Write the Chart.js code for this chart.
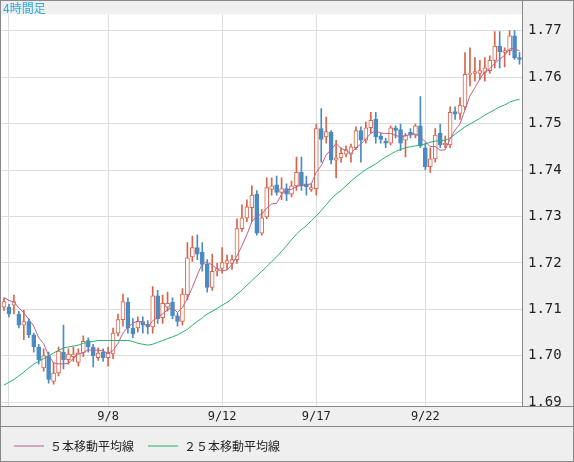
<!DOCTYPE html>
<html><head><meta charset="utf-8">
<script src="https://cdn.jsdelivr.net/npm/chart.js@4/dist/chart.umd.min.js"></script>
<style>html,body{margin:0;padding:0;background:#fff}#wrap{width:574px;height:462px}</style>
</head><body><div id="wrap"><canvas id="c"></canvas></div>
<script>
// 4時間足 OHLC
var opens  = [1.7105,1.7105,1.7109,1.7090,1.7066,1.7074,1.7045,1.7019,1.6974,1.7000,1.6945,1.6963,1.7008,1.6992,1.6998,1.6986,1.7006,1.7033,1.7019,1.6996,1.7008,1.6996,1.7004,1.7049,1.7078,1.7115,1.7060,1.7060,1.7074,1.7068,1.7062,1.7129,1.7082,1.7105,1.7115,1.7086,1.7074,1.7131,1.7213,1.7233,1.7223,1.7197,1.7147,1.7182,1.7188,1.7199,1.7199,1.7207,1.7274,1.7297,1.7319,1.7348,1.7264,1.7299,1.7358,1.7368,1.7352,1.7360,1.7348,1.7366,1.7395,1.7370,1.7358,1.7360,1.7489,1.7471,1.7481,1.7421,1.7426,1.7434,1.7434,1.7448,1.7485,1.7464,1.7491,1.7509,1.7473,1.7462,1.7458,1.7491,1.7487,1.7464,1.7481,1.7475,1.7495,1.7448,1.7407,1.7424,1.7479,1.7454,1.7454,1.7526,1.7522,1.7536,1.7606,1.7608,1.7608,1.7610,1.7614,1.7636,1.7667,1.7653,1.7657,1.7689,1.7642];
var highs  = [1.7125,1.7111,1.7131,1.7096,1.7098,1.7080,1.7049,1.7025,1.7015,1.7008,1.6986,1.7019,1.7066,1.7015,1.7019,1.7015,1.7043,1.7039,1.7025,1.7017,1.7015,1.7019,1.7060,1.7090,1.7133,1.7125,1.7080,1.7084,1.7084,1.7076,1.7149,1.7141,1.7131,1.7137,1.7125,1.7092,1.7145,1.7244,1.7258,1.7260,1.7244,1.7207,1.7219,1.7199,1.7233,1.7217,1.7217,1.7295,1.7325,1.7336,1.7366,1.7356,1.7315,1.7383,1.7383,1.7387,1.7383,1.7370,1.7376,1.7428,1.7428,1.7387,1.7370,1.7499,1.7532,1.7514,1.7485,1.7464,1.7448,1.7452,1.7456,1.7493,1.7493,1.7503,1.7524,1.7524,1.7479,1.7469,1.7495,1.7495,1.7499,1.7479,1.7489,1.7499,1.7558,1.7458,1.7448,1.7489,1.7499,1.7473,1.7536,1.7536,1.7556,1.7653,1.7663,1.7642,1.7636,1.7642,1.7646,1.7698,1.7698,1.7663,1.7700,1.7700,1.7653];
var lows   = [1.7098,1.7084,1.7090,1.7060,1.7035,1.7039,1.7008,1.6982,1.6967,1.6941,1.6939,1.6957,1.6972,1.6982,1.6988,1.6978,1.6998,1.7008,1.6976,1.6990,1.6988,1.6978,1.6994,1.7043,1.7064,1.7049,1.7039,1.7051,1.7049,1.7047,1.7049,1.7070,1.7070,1.7096,1.7080,1.7064,1.7066,1.7121,1.7203,1.7207,1.7182,1.7137,1.7141,1.7172,1.7178,1.7186,1.7186,1.7199,1.7268,1.7289,1.7289,1.7260,1.7260,1.7295,1.7346,1.7346,1.7336,1.7334,1.7342,1.7356,1.7356,1.7346,1.7354,1.7346,1.7417,1.7458,1.7413,1.7383,1.7417,1.7428,1.7417,1.7444,1.7417,1.7458,1.7479,1.7458,1.7458,1.7448,1.7454,1.7469,1.7442,1.7428,1.7469,1.7469,1.7448,1.7401,1.7395,1.7417,1.7448,1.7448,1.7448,1.7509,1.7509,1.7530,1.7581,1.7591,1.7595,1.7591,1.7608,1.7620,1.7620,1.7622,1.7648,1.7638,1.7628];
var closes = [1.7117,1.7090,1.7117,1.7066,1.7074,1.7045,1.7019,1.6992,1.7000,1.6949,1.6963,1.7010,1.6992,1.7004,1.7004,1.7006,1.7031,1.7019,1.7000,1.7006,1.6996,1.7006,1.7049,1.7078,1.7117,1.7060,1.7047,1.7074,1.7066,1.7062,1.7129,1.7080,1.7113,1.7113,1.7086,1.7074,1.7133,1.7211,1.7233,1.7219,1.7197,1.7147,1.7182,1.7188,1.7201,1.7205,1.7207,1.7274,1.7297,1.7321,1.7346,1.7264,1.7297,1.7362,1.7366,1.7352,1.7360,1.7348,1.7366,1.7395,1.7366,1.7364,1.7362,1.7489,1.7466,1.7483,1.7421,1.7426,1.7436,1.7444,1.7450,1.7485,1.7464,1.7491,1.7507,1.7471,1.7466,1.7458,1.7491,1.7485,1.7458,1.7475,1.7475,1.7495,1.7452,1.7407,1.7424,1.7475,1.7454,1.7458,1.7524,1.7520,1.7540,1.7606,1.7608,1.7612,1.7614,1.7620,1.7636,1.7667,1.7655,1.7657,1.7689,1.7642,1.7638];
// closes before the first visible candle (for the 5 MA)
var prevCloses = [1.7120,1.7135,1.7130,1.7125];
// 25本移動平均線
var ma25 = [1.6937,1.6943,1.6949,1.6957,1.6965,1.6974,1.6982,1.6988,1.6994,1.7000,1.7006,1.7012,1.7017,1.7019,1.7021,1.7023,1.7027,1.7029,1.7031,1.7033,1.7033,1.7033,1.7033,1.7033,1.7033,1.7033,1.7031,1.7027,1.7025,1.7023,1.7025,1.7029,1.7033,1.7037,1.7041,1.7045,1.7051,1.7057,1.7066,1.7074,1.7082,1.7090,1.7096,1.7102,1.7109,1.7115,1.7123,1.7133,1.7141,1.7152,1.7162,1.7172,1.7182,1.7192,1.7203,1.7213,1.7225,1.7237,1.7250,1.7262,1.7272,1.7280,1.7291,1.7301,1.7313,1.7325,1.7338,1.7348,1.7356,1.7366,1.7376,1.7385,1.7393,1.7401,1.7407,1.7413,1.7421,1.7428,1.7434,1.7440,1.7444,1.7448,1.7450,1.7452,1.7454,1.7456,1.7460,1.7462,1.7464,1.7464,1.7469,1.7477,1.7485,1.7493,1.7499,1.7505,1.7511,1.7518,1.7524,1.7530,1.7536,1.7540,1.7546,1.7550,1.7552];
var dateIdx = [21, 44, 63, 85];
var dateLabels = ['9/8', '9/12', '9/17', '9/22'];
var gridIdx = [1, 21, 44, 63, 85];
var yTicks = [1.69, 1.70, 1.71, 1.72, 1.73, 1.74, 1.75, 1.76, 1.77];

var UP = '#d9644a', DOWN = '#4b8bc3';
var labels = closes.map(function(){ return ''; });
dateIdx.forEach(function(d, k){ labels[d] = dateLabels[k]; });

var all = prevCloses.concat(closes);
var ma5 = closes.map(function(c, i){
  var s = 0; for (var k = i; k < i + 5; k++) s += all[k];
  return s / 5;
});

var isUp = closes.map(function(c, i){ return c >= opens[i]; });
var wicks = closes.map(function(c, i){ return [lows[i], highs[i]]; });
var bodies = closes.map(function(c, i){
  var a = opens[i], b = c;
  if (Math.abs(a - b) < 0.00015) b = a + (isUp[i] ? 0.00015 : -0.00015);
  return [a, b];
});

var frame = {
  id: 'frame',
  beforeDraw: function(chart){
    var ctx = chart.ctx, a = chart.chartArea;
    ctx.save();
    ctx.fillStyle = '#efefef';
    ctx.fillRect(0, 0, chart.width, chart.height);
    ctx.fillStyle = '#fff';
    ctx.fillRect(a.left, a.top, a.right - a.left, a.bottom - a.top);
    ctx.restore();
  },
  afterDraw: function(chart){
    var ctx = chart.ctx, a = chart.chartArea;
    ctx.save();
    ctx.strokeStyle = '#888';
    ctx.lineWidth = 1;
    ctx.strokeRect(0.5, 0.5, chart.width - 1, chart.height - 1);
    ctx.beginPath();
    ctx.moveTo(a.right + 0.5, 0); ctx.lineTo(a.right + 0.5, a.bottom + 0.5);
    ctx.moveTo(0, a.bottom + 0.5); ctx.lineTo(chart.width, a.bottom + 0.5);
    ctx.moveTo(0, a.bottom + 20.5); ctx.lineTo(chart.width, a.bottom + 20.5);
    ctx.stroke();
    ctx.fillStyle = '#29a9d9';
    ctx.font = '12px "Noto Sans CJK JP"';
    ctx.textBaseline = 'top';
    ctx.fillText('4時間足', 3, 2);
    ctx.restore();
  }
};

new Chart(document.getElementById('c'), {
  type: 'bar',
  data: {
    labels: labels,
    datasets: [
      { type: 'line', label: '５本移動平均線', data: ma5, borderColor: '#b5638f', borderWidth: 1, pointRadius: 0, tension: 0, order: 0 },
      { type: 'line', label: '２５本移動平均線', data: ma25, borderColor: '#2bb06c', borderWidth: 1, pointRadius: 0, tension: 0, order: 0 },
      { label: 'wick', data: wicks, backgroundColor: isUp.map(function(u){ return u ? UP : DOWN; }), barThickness: 1, grouped: false, order: 2 },
      { label: 'body', data: bodies, backgroundColor: isUp.map(function(u){ return u ? '#fff' : DOWN; }),
        borderColor: isUp.map(function(u){ return u ? UP : DOWN; }), borderWidth: 1, borderSkipped: false,
        barThickness: 4, grouped: false, order: 1 }
    ]
  },
  options: {
    responsive: true, maintainAspectRatio: false, animation: false,
    layout: { padding: 0 },
    plugins: {
      tooltip: { enabled: false },
      legend: {
        position: 'bottom', align: 'start',
        labels: {
          filter: function(item){ return item.datasetIndex < 2; },
          usePointStyle: true, pointStyle: 'line', pointStyleWidth: 30,
          color: '#222', font: { family: '"Noto Sans CJK JP"', size: 12 }, padding: 14
        }
      }
    },
    scales: {
      x: {
        offset: true,
        grid: { offset: false, drawTicks: false,
          color: function(c){ return gridIdx.indexOf(c.index) >= 0 ? '#dcdcdc' : 'rgba(0,0,0,0)'; } },
        border: { display: false },
        ticks: { autoSkip: false, maxRotation: 0, padding: 4, color: '#222',
          font: { family: '"DejaVu Sans Mono"', size: 12 } },
        afterFit: function(s){ s.height = 20; }
      },
      y: {
        position: 'right', min: 1.6892, max: 1.7735,
        afterBuildTicks: function(s){ s.ticks = yTicks.map(function(v){ return { value: v }; }); },
        grid: { color: '#dcdcdc', drawTicks: false },
        border: { display: false },
        ticks: { padding: 6, color: '#222', font: { family: '"DejaVu Sans Mono"', size: 14 },
          callback: function(v){ return v.toFixed(2); } },
        afterFit: function(s){ s.width = 52; }
      }
    }
  },
  plugins: [frame]
});
</script>
</body></html>
